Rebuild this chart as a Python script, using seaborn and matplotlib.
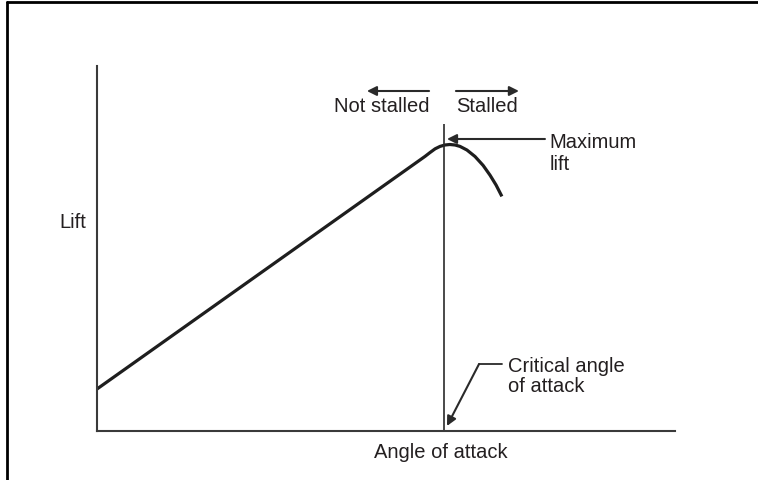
import matplotlib
matplotlib.use("Agg")
import matplotlib.pyplot as plt
import seaborn as sns
import pandas as pd

# Data (angle of attack in degrees, lift in arbitrary units)
angle = [0, 11.35, 11.52, 11.70, 11.87, 12.04, 12.21, 12.39, 12.56, 12.80, 13.08, 13.36, 13.60, 13.81, 14.01]
lift = [0.21, 1.373, 1.392, 1.411, 1.423, 1.430, 1.4325, 1.430, 1.423, 1.405, 1.3725, 1.328, 1.279, 1.2295, 1.173]
critical_angle = 12.0
critical_top = 1.535

x_label = "Angle of attack"
y_label = "Lift"
left_label = "Not stalled"
right_label = "Stalled"
max_label = ["Maximum", "lift"]
crit_label = ["Critical angle", "of attack"]

sns.set_style("white")
plt.rcParams['font.family'] = ['Liberation Sans', 'DejaVu Sans']

W, H = 758, 481
fig = plt.figure(figsize=(W / 100, H / 100), dpi=100)
ax = fig.add_axes([97 / W, (H - 432) / H, (675 - 97) / W, (432 - 67) / H])

df = pd.DataFrame({"angle": angle, "lift": lift})
sns.lineplot(data=df, x="angle", y="lift", ax=ax, color="#1e1e1e", lw=2.3)
for ln in ax.lines:
    ln.set_solid_joinstyle("round")
    ln.set_solid_capstyle("butt")

ax.set_xlim(0, 20)
ax.set_ylim(0, 1.825)
ax.set_xticks([])
ax.set_yticks([])
ax.set_xlabel("")
ax.set_ylabel("")
sns.despine(ax=ax, top=True, right=True)
for s in ["left", "bottom"]:
    ax.spines[s].set_color("#3a3a3a")
    ax.spines[s].set_linewidth(1.5)

ax.vlines(critical_angle, 0, critical_top, color="#2a2a2a", lw=1.2)

tc = "#231f20"
fs = 14.5
ax.text(11.9, -0.105, x_label, ha="center", va="center", fontsize=fs, color=tc, clip_on=False)
ax.text(-0.85, 1.045, y_label, ha="center", va="center", fontsize=fs, color=tc, clip_on=False)

ax.text(11.49, 1.625, left_label, ha="right", va="center", fontsize=fs, color=tc)
ax.text(12.42, 1.625, right_label, ha="left", va="center", fontsize=fs, color=tc)
arr = dict(arrowstyle="-|>", lw=1.5, color="#2a2a2a", mutation_scale=14, shrinkA=0, shrinkB=0)
ax.annotate("", xy=(9.34, 1.70), xytext=(11.49, 1.70), arrowprops=arr)
ax.annotate("", xy=(14.6, 1.70), xytext=(12.42, 1.70), arrowprops=arr)

ax.text(15.67, 1.45, max_label[0], ha="left", va="center", fontsize=fs, color=tc)
ax.text(15.67, 1.335, max_label[1], ha="left", va="center", fontsize=fs, color=tc)
ax.annotate("", xy=(12.11, 1.46), xytext=(15.5, 1.46), arrowprops=arr)

ax.text(14.22, 0.325, crit_label[0], ha="left", va="center", fontsize=fs, color=tc)
ax.text(14.22, 0.225, crit_label[1], ha="left", va="center", fontsize=fs, color=tc)
ax.plot([14.01, 13.22], [0.335, 0.335], color="#2a2a2a", lw=1.3)
ax.annotate("", xy=(12.11, 0.025), xytext=(13.22, 0.335), arrowprops=arr)

# figure frame (left and top)
fig.add_artist(plt.Line2D([7 / W, 7 / W], [0, 1 - 3 / H], transform=fig.transFigure, color="black", lw=2))
fig.add_artist(plt.Line2D([7 / W, 1], [1 - 3 / H, 1 - 3 / H], transform=fig.transFigure, color="black", lw=2))

fig.savefig("out.png", dpi=100)
